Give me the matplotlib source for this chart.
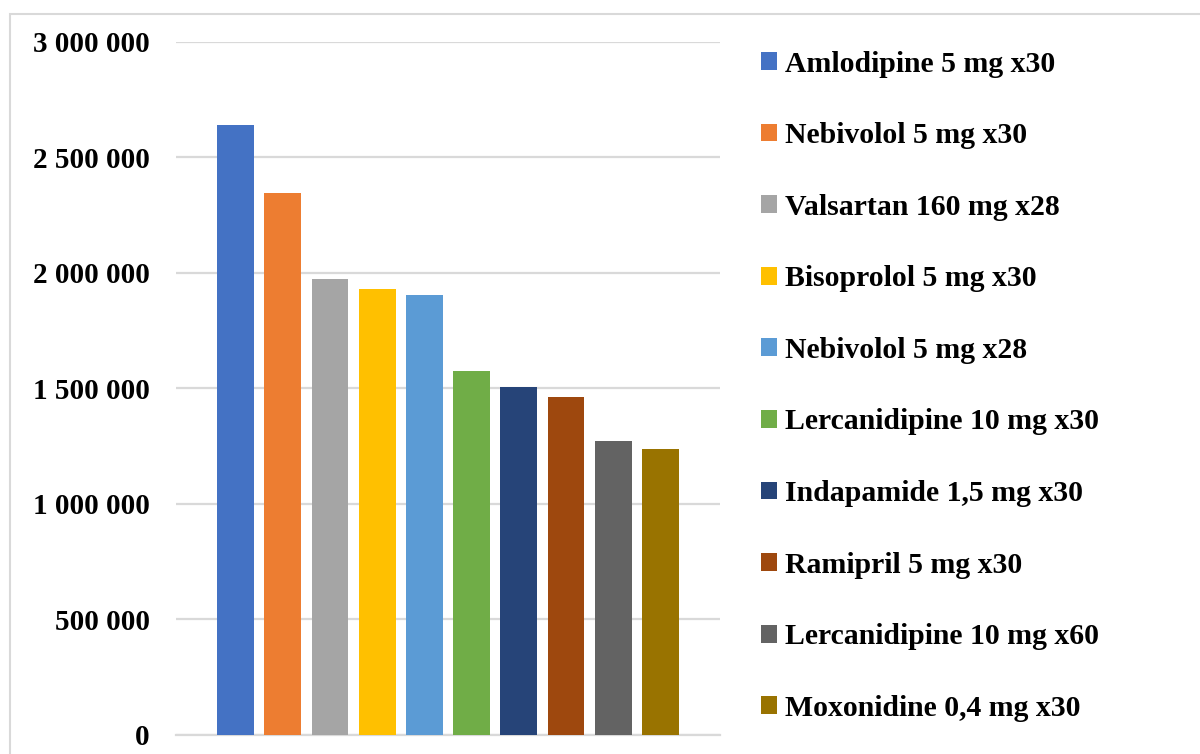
import matplotlib.pyplot as plt
from matplotlib.patches import Rectangle, Patch
from matplotlib.ticker import FuncFormatter

# Data
drugs = ['Amlodipine 5 mg x30', 'Nebivolol 5 mg x30', 'Valsartan 160 mg x28',
         'Bisoprolol 5 mg x30', 'Nebivolol 5 mg x28', 'Lercanidipine 10 mg x30',
         'Indapamide 1,5 mg x30', 'Ramipril 5 mg x30', 'Lercanidipine 10 mg x60',
         'Moxonidine 0,4 mg x30']
values = [2641000, 2346000, 1974000, 1931000, 1905000,
          1576000, 1506000, 1463000, 1273000, 1238000]
colors = ['#4472C4', '#ED7D31', '#A5A5A5', '#FFC000', '#5B9BD5',
          '#70AD47', '#264478', '#9E480E', '#636363', '#997300']
yticks = [0, 500000, 1000000, 1500000, 2000000, 2500000, 3000000]

plt.rcParams['font.family'] = ['Liberation Serif', 'DejaVu Serif']
plt.rcParams['font.weight'] = 'bold'

fig = plt.figure(figsize=(12, 7.54), dpi=100)
ax = fig.add_axes([0.1467, 0.0252, 0.4533, 0.9191])

# outer chart border
fig.patches.append(Rectangle((0.0085, -0.05), 1.05, 0.032 + 1.0, transform=fig.transFigure,
                             fill=False, edgecolor='#d9d9d9', linewidth=1.5))

pos = list(range(len(values)))
ax.bar(pos, values, width=0.78, color=colors, zorder=3)

ax.set_xlim(-1.26, 10.26)
ax.set_ylim(0, 3000000)
ax.set_yticks(yticks)
ax.yaxis.set_major_formatter(FuncFormatter(lambda v, p: f'{int(v):,}'.replace(',', ' ')))
ax.grid(axis='y', color='#d9d9d9', linewidth=1.6, zorder=0)
ax.set_xticks([])
ax.tick_params(axis='y', length=0, pad=19, labelsize=21)
for lab in ax.get_yticklabels():
    lab.set_fontweight('bold')
for s in ['top', 'right', 'left']:
    ax.spines[s].set_visible(False)
ax.spines['bottom'].set_color('#d9d9d9')
ax.spines['bottom'].set_linewidth(1.6)

handles = [Patch(facecolor=c, label=d) for c, d in zip(colors, drugs)]
fig.legend(handles=handles, loc='upper left', bbox_to_anchor=(0.634, 0.933),
           frameon=False, prop={'size': 21.4, 'weight': 'bold'},
           handlelength=0.54, handleheight=0.54, handletextpad=0.27,
           labelspacing=1.5, borderpad=0, borderaxespad=0)

fig.savefig('out.png', dpi=100)
